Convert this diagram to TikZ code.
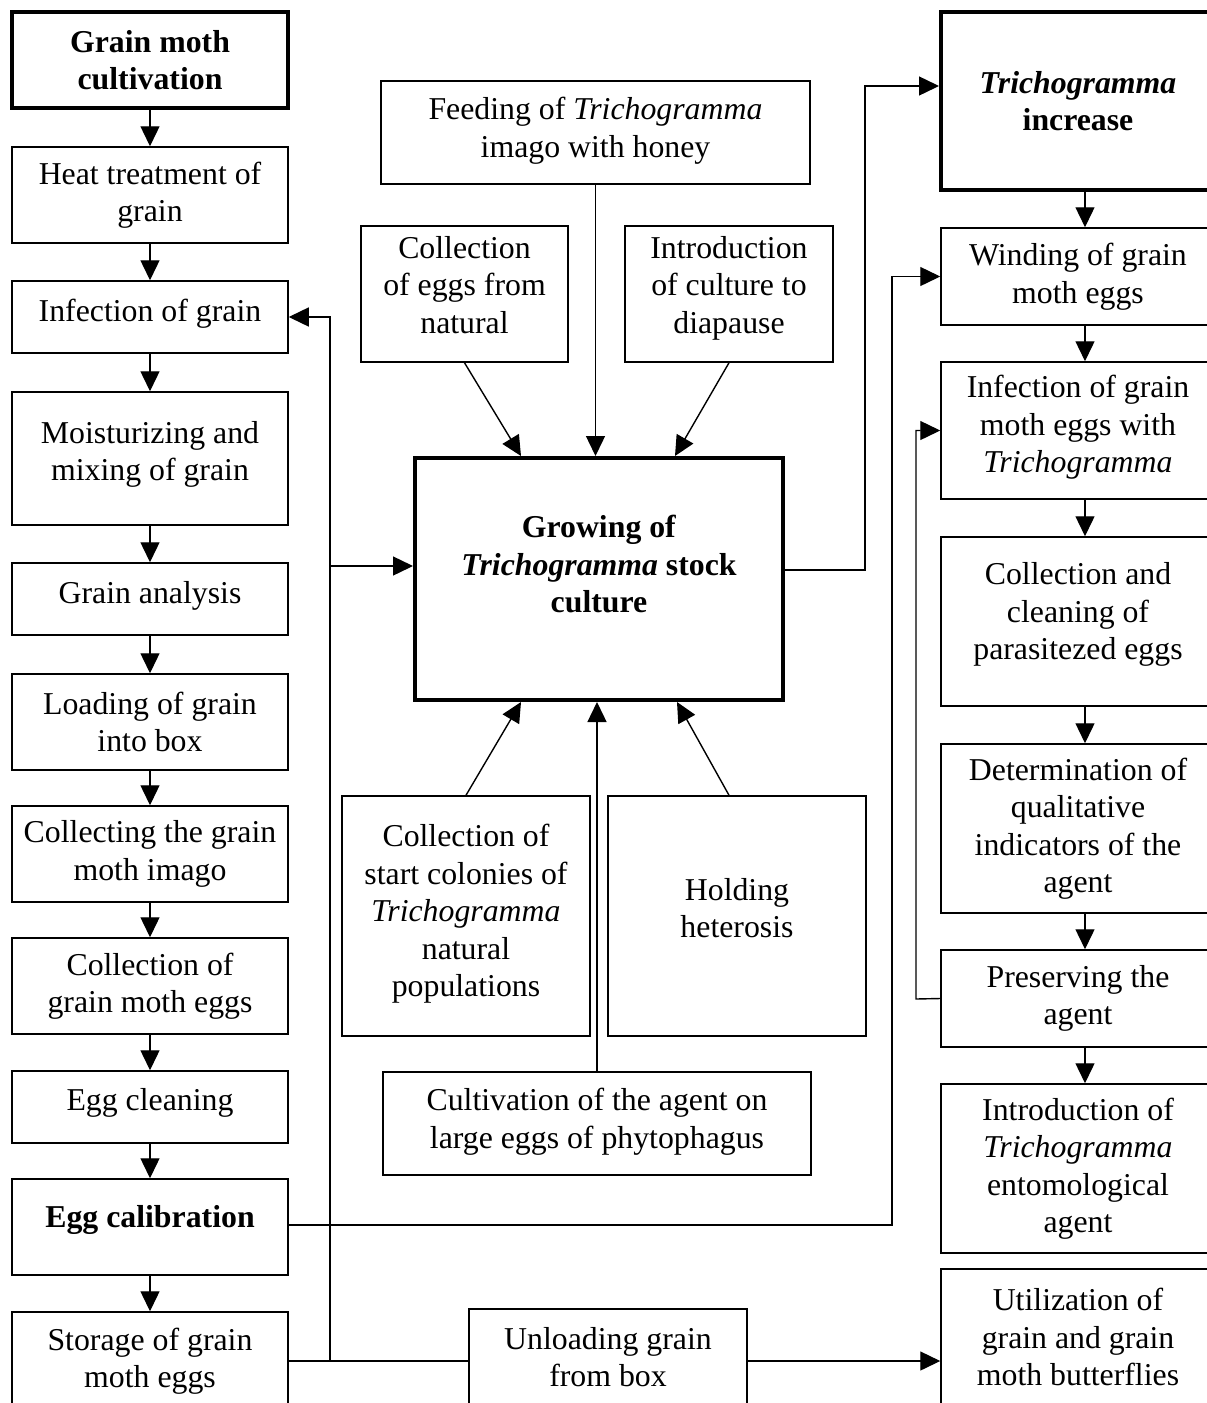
\documentclass[tikz,border=0pt]{standalone}
\usepackage{fontspec}
\setmainfont{Liberation Serif}
\usetikzlibrary{arrows.meta}
\tikzset{
  bx/.style={draw, line width=1.5pt, rectangle, inner sep=0pt},
  tbx/.style={draw, line width=4pt, rectangle, inner sep=0pt},
  txt/.style={align=center, inner sep=0pt, font=\fontsize{31.8pt}{37.5pt}\selectfont},
  arr/.style={line width=1.4pt, -{Triangle[length=20pt,width=19pt]}},
  ln/.style={line width=1.4pt},
}
% name, x1, y1, x2, y2, style, text dy, text
\newcommand\mybox[8]{%
  \node[#6, minimum width={(#4)-(#2)}, minimum height={(#5)-(#3)}] (#1) at ({((#2)+(#4))/2},{((#3)+(#5))/2}) {};
  \node[txt] (#1-t) at ({((#2)+(#4))/2},{((#3)+(#5))/2+(#7)}) {#8};
}
\begin{document}
\begin{tikzpicture}[x=1pt, y=-1pt]
\fill[white] (0,0) rectangle (1207,1403);
\clip (0,0) rectangle (1207,1403);
% left column
\mybox{gmc}{12}{12}{288}{108}{tbx}{0}{\textbf{Grain moth}\\\textbf{cultivation}}
\mybox{heat}{12}{147}{288}{243}{bx}{0}{Heat treatment of\\grain}
\mybox{infg}{12}{281}{288}{353}{bx}{-3}{Infection of grain}
\mybox{moist}{12}{392}{288}{525}{bx}{-4}{Moisturizing and\\mixing of grain}
\mybox{anal}{12}{563}{288}{635}{bx}{-3}{Grain analysis}
\mybox{load}{12}{674}{288}{770}{bx}{0}{Loading of grain\\into box}
\mybox{colim}{12}{806}{288}{902}{bx}{0}{Collecting the grain\\moth imago}
\mybox{coleg}{12}{938}{288}{1034}{bx}{0}{Collection of\\grain moth eggs}
\mybox{clean}{12}{1071}{288}{1143}{bx}{-4}{Egg cleaning}
\mybox{calib}{12}{1179}{288}{1275}{bx}{-7}{\textbf{Egg calibration}}
\mybox{store}{12}{1312}{288}{1410}{bx}{0}{Storage of grain\\moth eggs}
% centre
\mybox{feed}{381}{81}{810}{184}{bx}{-2}{Feeding of \textit{Trichogramma}\\imago with honey}
\mybox{coln}{361}{226}{568}{362}{bx}{-9}{Collection\\of eggs from\\natural}
\mybox{intro}{625}{226}{833}{362}{bx}{-6}{Introduction\\of culture to\\diapause}
\mybox{grow}{415}{458}{783}{700}{tbx}{-15}{\textbf{Growing of}\\\textbf{\textit{Trichogramma} stock}\\\textbf{culture}}
\mybox{colst}{342}{796}{590}{1036}{bx}{-2}{Collection of\\start colonies of\\\textit{Trichogramma}\\natural\\populations}
\mybox{hold}{608}{796}{866}{1036}{bx}{-8}{Holding\\heterosis}
\mybox{cult}{383}{1072}{811}{1175}{bx}{-2}{Cultivation of the agent on\\large eggs of phytophagus}
\mybox{unl}{469}{1309}{747}{1405}{bx}{0}{Unloading grain\\from box}
% right column
\mybox{tinc}{941}{12}{1215}{190}{tbx}{0}{\textbf{\textit{Trichogramma}}\\\textbf{increase}}
\mybox{wind}{941}{228}{1215}{325}{bx}{0}{Winding of grain\\moth eggs}
\mybox{infe}{941}{362}{1215}{499}{bx}{-3}{Infection of grain\\moth eggs with\\\textit{Trichogramma}}
\mybox{clc}{941}{537}{1215}{706}{bx}{-7}{Collection and\\cleaning of\\parasitezed eggs}
\mybox{det}{941}{744}{1215}{913}{bx}{0}{Determination of\\qualitative\\indicators of the\\agent}
\mybox{pres}{941}{950}{1215}{1047}{bx}{0}{Preserving the\\agent}
\mybox{intr}{941}{1084}{1215}{1253}{bx}{0}{Introduction of\\\textit{Trichogramma}\\entomological\\agent}
\mybox{util}{941}{1269}{1215}{1405}{bx}{0}{Utilization of\\grain and grain\\moth butterflies}
% left column arrows
\foreach \a/\b in {gmc/heat, heat/infg, infg/moist, moist/anal, anal/load, load/colim, colim/coleg, coleg/clean, clean/calib, calib/store}
  \draw[arr] (\a.south) -- (\b.north);
% right column arrows
\foreach \a/\b in {tinc/wind, wind/infe, infe/clc, clc/det, det/pres, pres/intr}
  \draw[arr] ([xshift=7pt]\a.south) -- ([xshift=7pt]\b.north);
% junctions
\coordinate (j1) at (330,1361);
\coordinate (j2) at (330,566);
\coordinate (k1) at (892,1225);
\coordinate (k2) at (865,570);
\coordinate (k3) at (865,86);
\coordinate (k4) at (916,999);
% storage feedback
\draw[ln] (store.east |- j1) -- (j1);
\draw[arr] (j1) |- (infg.east);
\draw[arr] (j2) -- (grow.west |- j2);
\draw[ln] (j1) -- (unl.west |- j1);
\draw[arr] (unl.east |- j1) -- (util.west |- j1);
% calibration to winding
\draw[arr] (calib.east |- k1) -- (k1) |- (wind.west);
% growing to increase
\draw[arr] (grow.east |- k2) -- (k2) -- (k3) -- (tinc.west |- k3);
% preserving to infection
\draw[arr] (pres.west) -- (k4) |- (infe.west);
% inputs to growing
\draw[arr] (coln.south) -- ([xshift=-78pt]grow.north);
\draw[arr] (feed.south) -- (feed.south |- grow.north);
\draw[arr] (intro.south) -- ([xshift=76pt]grow.north);
\draw[arr] (colst.north) -- ([xshift=-78pt]grow.south);
\draw[arr] (cult.north) -- (cult.north |- grow.south);
\draw[arr] ([xshift=-8pt]hold.north) -- ([xshift=78pt]grow.south);
\end{tikzpicture}
\end{document}
